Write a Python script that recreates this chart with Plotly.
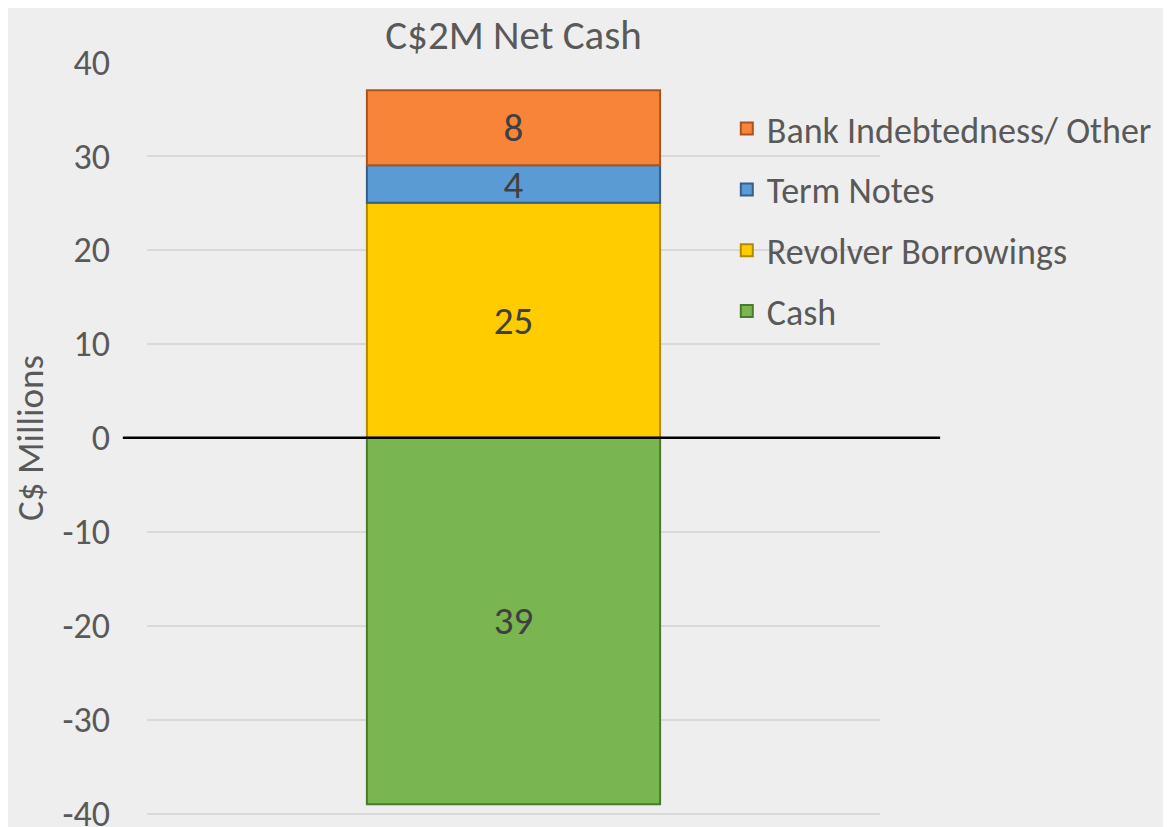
import plotly.graph_objects as go

CATEGORY = ["Net Cash"]
SERIES = ["Cash", "Revolver Borrowings", "Term Notes", "Bank Indebtedness/ Other"]
VALUES = [-39, 25, 4, 8]
LEGEND_RANK = [4, 3, 2, 1]
COLORS = ["#7ab650", "#ffcc00", "#5b9bd5", "#f8843a"]
EDGES = ["#4a7a2c", "#b08a00", "#365f88", "#a9541f"]

TICK_VALS = [-40, -30, -20, -10, 0, 10, 20, 30, 40]
TICK_TEXT = ["-40", "-30", "-20", "-10", "0", "10", "20", "30", "40"]

TEXT_COLOR = "#595959"
FONT = "Carlito, Lato, sans-serif"

fig = go.Figure()
for name, val, rank, col, edge in zip(SERIES, VALUES, LEGEND_RANK, COLORS, EDGES):
    fig.add_trace(go.Bar(
        x=CATEGORY,
        y=[val],
        name=name,
        legendrank=rank,
        legendgroup=name,
        marker=dict(color=col, line=dict(color=edge, width=2)),
        width=0.4,
        text=[str(abs(val))],
        textposition="inside",
        insidetextanchor="middle",
        textangle=0,
        constraintext="none",
        textfont=dict(size=39, color="#404040", family=FONT),
        hovertemplate=name + ": %{y}<extra></extra>",
    ))

# black zero line reaching a little past the gridlines
fig.add_shape(type="line", xref="paper", yref="y",
              x0=-0.033, x1=1.082, y0=0, y1=0,
              line=dict(color="black", width=2.5), layer="above")

fig.update_layout(
    barmode="relative",
    width=1163, height=819,
    margin=dict(l=139, r=291, t=53, b=12),
    paper_bgcolor="#eeeeee",
    plot_bgcolor="rgba(0,0,0,0)",
    font=dict(family=FONT, color=TEXT_COLOR),
    title=dict(text="C$2M Net Cash", x=0.5, xref="paper", xanchor="center",
               y=0.968, yanchor="middle",
               font=dict(size=41, color=TEXT_COLOR, family=FONT)),
    showlegend=True,
    legend=dict(
        x=0.791, y=0.95, xanchor="left", yanchor="top",
        traceorder="grouped", tracegroupgap=11,
        font=dict(size=36, color=TEXT_COLOR, family=FONT),
        bgcolor="rgba(0,0,0,0)",
    ),
    xaxis=dict(range=[-0.5, 0.5], showticklabels=False, showgrid=False,
               zeroline=False, showline=False),
    yaxis=dict(range=[-40.15, 40.1], tickmode="array",
               tickvals=TICK_VALS, ticktext=TICK_TEXT,
               ticklabeloverflow="allow", automargin=False,
               showgrid=True, gridcolor="#d9d9d9", gridwidth=1.5,
               zeroline=False, showline=False,
               ticks="", ticklabelstandoff=36,
               tickfont=dict(size=36, color=TEXT_COLOR, family=FONT),
               title=dict(text="C$ Millions", standoff=14,
                          font=dict(size=37, color=TEXT_COLOR, family=FONT))),
)

fig.write_html("out.html")
